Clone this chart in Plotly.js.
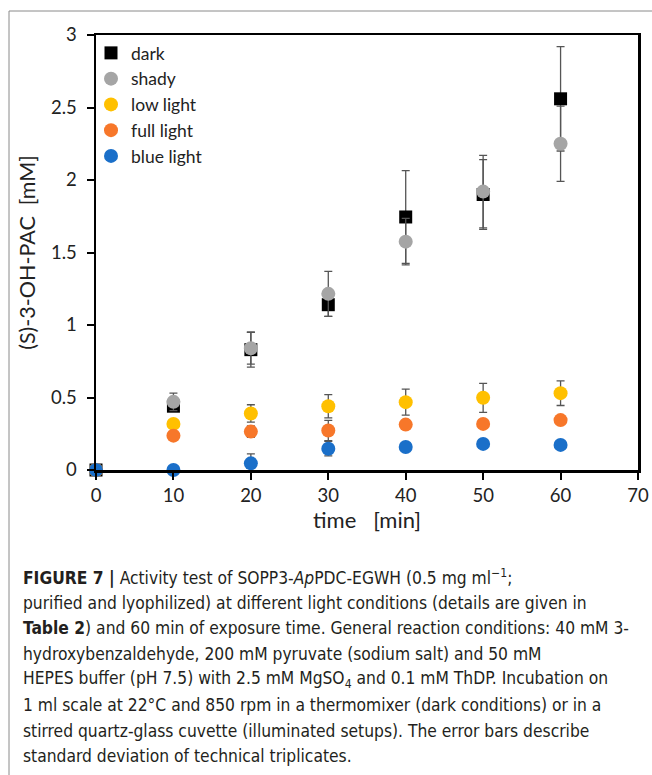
<!DOCTYPE html>
<html>
<head>
<meta charset="utf-8">
<script src="https://cdn.plot.ly/plotly-3.0.1.min.js"></script>
<style>html,body{margin:0;padding:0;background:#fff;}#chart{width:652px;height:775px;}</style>
</head>
<body>
<div id="chart"></div>
<script>
// ---- data ----
const times = [0, 10, 20, 30, 40, 50, 60];
const seriesNames = ["dark", "shady", "low light", "full light", "blue light"];
const darkVals  = [0, 0.44, 0.83, 1.14, 1.745, 1.90, 2.56];
const darkErr   = [0, 0.02, 0.12, 0.08, 0.32, 0.24, 0.36];
const shadyVals = [0, 0.47, 0.84, 1.215, 1.575, 1.92, 2.25];
const shadyErr  = [0, 0.06, 0.11, 0.155, 0.16, 0.25, 0.26];
const lowVals   = [0, 0.318, 0.39, 0.44, 0.468, 0.498, 0.53];
const lowErr    = [0, 0.02, 0.06, 0.08, 0.09, 0.10, 0.085];
const fullVals  = [0, 0.237, 0.265, 0.272, 0.313, 0.318, 0.344];
const fullErr   = [0, 0.02, 0.04, 0.07, 0.03, 0.03, 0.03];
const blueVals  = [0, 0, 0.046, 0.147, 0.159, 0.18, 0.173];
const blueErr   = [0, 0, 0.065, 0.05, 0.02, 0.02, 0.02];
const xTitle = "time   [min]";
const yTitle = "(S)-3-OH-PAC  [mM]";
const captionLines = [
  "<b>FIGURE 7 |</b> Activity test of SOPP3-<i>Ap</i>PDC-EGWH (0.5 mg ml<sup>−1</sup>;",
  "purified and lyophilized) at different light conditions (details are given in",
  "<b>Table 2</b>) and 60 min of exposure time. General reaction conditions: 40 mM 3-",
  "hydroxybenzaldehyde, 200 mM pyruvate (sodium salt) and 50 mM",
  "HEPES buffer (pH 7.5) with 2.5 mM MgSO<sub>4</sub> and 0.1 mM ThDP. Incubation on",
  "1 ml scale at 22°C and 850 rpm in a thermomixer (dark conditions) or in a",
  "stirred quartz-glass cuvette (illuminated setups). The error bars describe",
  "standard deviation of technical triplicates."
];

// ---- styles ----
const W = 652, H = 775;
const plotL = 96, plotR = 638, plotT = 35, plotB = 470;
const px = x => (x - plotL) / (plotR - plotL);
const py = y => (plotB - y) / (plotB - plotT);
const font = "Lato, 'Open Sans', sans-serif";
const capFont = "'DejaVu Sans Condensed', 'Liberation Sans', sans-serif";
const errColor = "#555555";

function mk(name, vals, err, color, symbol, size) {
  return {
    type: "scatter", mode: "markers", name: name, x: times, y: vals,
    cliponaxis: false,
    marker: {color: color, symbol: symbol, size: size, line: {width: 0}},
    error_y: {type: "data", array: err, visible: true, color: errColor, thickness: 1.3, width: 4}
  };
}
const data = [
  mk(seriesNames[0], darkVals, darkErr, "#000000", "square", 13),
  mk(seriesNames[1], shadyVals, shadyErr, "#a5a5a5", "circle", 14),
  mk(seriesNames[2], lowVals, lowErr, "#ffc000", "circle", 14),
  mk(seriesNames[3], fullVals, fullErr, "#f7772a", "circle", 14),
  mk(seriesNames[4], blueVals, blueErr, "#1a6fc9", "circle", 14)
];

const annotations = captionLines.map((t, i) => ({
  text: t, xref: "paper", yref: "paper", x: px(21), y: py(577 + i * 25.6),
  xanchor: "left", yanchor: "middle", showarrow: false, align: "left",
  font: {family: capFont, size: 17.3, color: "#231f20"}
}));

const shapes = [
  {type: "line", xref: "paper", yref: "paper", x0: px(9), x1: px(9), y0: py(11), y1: py(775), line: {color: "#8a8a8a", width: 1}},
  {type: "line", xref: "paper", yref: "paper", x0: px(9), x1: px(652), y0: py(11), y1: py(11), line: {color: "#8a8a8a", width: 1}}
];

const layout = {
  width: W, height: H,
  margin: {l: plotL, r: W - plotR, t: plotT, b: H - plotB, pad: 0},
  paper_bgcolor: "#fff", plot_bgcolor: "#fff",
  showlegend: true,
  legend: {x: px(91), y: py(35), xanchor: "left", yanchor: "top", bgcolor: "rgba(0,0,0,0)",
           font: {family: font, size: 17.5, color: "#222"}, tracegroupgap: 0, itemsizing: "trace"},
  xaxis: {range: [0, 70], dtick: 10, tick0: 0, showgrid: false, zeroline: false,
          showline: true, mirror: true, linecolor: "#000", linewidth: 2.5,
          ticks: "outside", ticklen: 7, tickwidth: 2, tickcolor: "#000",
          tickfont: {family: font, size: 18.5, color: "#222"},
          title: {text: xTitle, font: {family: font, size: 22, color: "#222"}, standoff: 6}},
  yaxis: {range: [0, 3], dtick: 0.5, tick0: 0, showgrid: false, zeroline: false,
          showline: true, mirror: true, linecolor: "#000", linewidth: 2.5,
          ticks: "outside", ticklen: 7, tickwidth: 2, tickcolor: "#000",
          ticklabelstandoff: 6,
          tickfont: {family: font, size: 18.5, color: "#222"},
          title: {text: yTitle, font: {family: font, size: 21.5, color: "#222"}, standoff: 10}},
  annotations: annotations,
  shapes: shapes
};

Plotly.newPlot("chart", data, layout, {displayModeBar: false, staticPlot: true});
</script>
</body>
</html>
